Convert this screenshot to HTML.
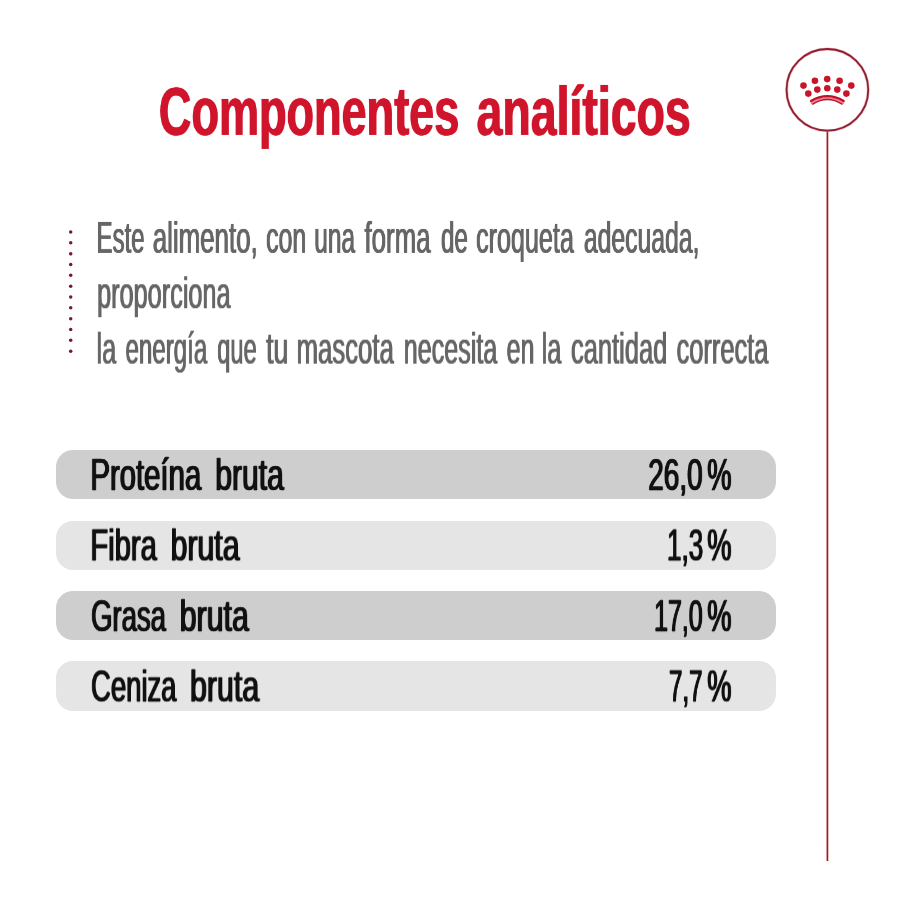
<!DOCTYPE html>
<html lang="es">
<head>
<meta charset="utf-8">
<title>Componentes analíticos</title>
<style>
html,body{margin:0;padding:0;}
body{width:900px;height:900px;background:#fff;position:relative;overflow:hidden;font-family:"Liberation Sans",sans-serif;}
.t{will-change:transform;position:absolute;left:0;top:0;white-space:nowrap;transform-origin:0 0;line-height:1;display:inline-block;}
.title{font-size:69px;font-weight:bold;color:#cf142b;text-shadow:0.85px 0 0 #cf142b,-0.85px 0 0 #cf142b;}
.p{font-size:44.5px;color:#666;text-shadow:0.75px 0 0 #666,-0.75px 0 0 #666;}
.row{position:absolute;left:56.2px;width:720px;height:48.8px;border-radius:17px;}
.dark{background:#cecece;}
.light{background:#e5e5e5;}
.lab{font-size:44.5px;color:#111;text-shadow:1px 0 0 #111,-1px 0 0 #111;-webkit-text-stroke:0.5px #111;}
</style>
</head>
<body>
<svg width="900" height="900" viewBox="0 0 900 900" style="position:absolute;left:0;top:0">
  <g fill="#741836" id="dots">
    <circle cx="70.7" cy="232.05" r="1.75"/><circle cx="70.7" cy="242.85" r="1.75"/><circle cx="70.7" cy="253.75" r="1.75"/>
    <circle cx="70.7" cy="264.55" r="1.75"/><circle cx="70.7" cy="275.35" r="1.75"/><circle cx="70.7" cy="286.25" r="1.75"/>
    <circle cx="70.7" cy="297.05" r="1.75"/><circle cx="70.7" cy="307.85" r="1.75"/><circle cx="70.7" cy="318.65" r="1.75"/>
    <circle cx="70.7" cy="329.55" r="1.75"/><circle cx="70.7" cy="340.35" r="1.75"/><circle cx="70.7" cy="351.15" r="1.75"/>
  </g>
  <rect x="826" y="131" width="1" height="730" fill="#dc97a1"/>
  <rect x="827" y="131" width="1" height="730" fill="#7c2631"/>
  <rect x="828" y="131" width="1" height="730" fill="#e8c2bd"/>
  <circle cx="827.4" cy="89.85" r="40.85" fill="none" stroke="#e88c98" stroke-opacity="0.6" stroke-width="3"/>
  <circle cx="827.4" cy="89.85" r="40.85" fill="none" stroke="#8e1f30" stroke-width="1.8"/>
  <g fill="#c9152b">
    <circle cx="814.9" cy="80.7" r="3.3"/><circle cx="827.2" cy="79.1" r="3.3"/><circle cx="839.6" cy="80.7" r="3.3"/>
    <circle cx="803.5" cy="85.6" r="3.3"/><circle cx="851.3" cy="85.6" r="3.3"/>
    <circle cx="817.3" cy="89.6" r="3.3"/><circle cx="827.3" cy="88.3" r="3.3"/><circle cx="837.3" cy="89.6" r="3.3"/>
    <circle cx="808.3" cy="93.6" r="3.3"/><circle cx="846.4" cy="93.6" r="3.3"/>
  </g>
  <path d="M811.6 102.7 Q827.3 93.6 843.1 102.7" fill="none" stroke="#f0808f" stroke-width="2.4" stroke-linecap="round"/>
  <path d="M811 100.9 Q827.3 91.5 843.7 100.9" fill="none" stroke="#b8132a" stroke-width="2.3" stroke-linecap="round"/>
  <path d="M812.7 104.1 Q827.3 94.9 842 104.1" fill="none" stroke="#b8132a" stroke-width="1.45" stroke-linecap="round"/>
</svg>

<div class="row dark" style="top:450px;height:49px"></div>
<div class="row light" style="top:520.5px;height:49.4px"></div>
<div class="row dark" style="top:590.9px;height:49.4px"></div>
<div class="row light" style="top:661.2px;height:49.4px"></div>

<!--WORDS-->
<div class="t title" style="transform:translate(158.85px,76.89px) scaleX(0.6531)">Componentes</div>
<div class="t title" style="transform:translate(476.53px,76.89px) scaleX(0.6730)">analíticos</div>
<div class="t p" style="transform:translate(96.59px,215.93px) scaleX(0.5385)">Este</div>
<div class="t p" style="transform:translate(152.75px,215.93px) scaleX(0.5813)">alimento,</div>
<div class="t p" style="transform:translate(266.06px,215.93px) scaleX(0.5597)">con</div>
<div class="t p" style="transform:translate(314.21px,215.93px) scaleX(0.5500)">una</div>
<div class="t p" style="transform:translate(364.44px,215.93px) scaleX(0.5810)">forma</div>
<div class="t p" style="transform:translate(440.96px,215.93px) scaleX(0.5430)">de</div>
<div class="t p" style="transform:translate(476.06px,215.93px) scaleX(0.5646)">croqueta</div>
<div class="t p" style="transform:translate(583.86px,215.93px) scaleX(0.5561)">adecuada,</div>
<div class="t p" style="transform:translate(97.09px,271.23px) scaleX(0.5678)">proporciona</div>
<div class="t p" style="transform:translate(96.53px,326.63px) scaleX(0.5661)">la</div>
<div class="t p" style="transform:translate(125.46px,326.63px) scaleX(0.5419)">energía</div>
<div class="t p" style="transform:translate(217.17px,326.63px) scaleX(0.5329)">que</div>
<div class="t p" style="transform:translate(266.05px,326.63px) scaleX(0.6051)">tu</div>
<div class="t p" style="transform:translate(296.58px,326.63px) scaleX(0.5782)">mascota</div>
<div class="t p" style="transform:translate(403.69px,326.63px) scaleX(0.5644)">necesita</div>
<div class="t p" style="transform:translate(506.56px,326.63px) scaleX(0.5630)">en</div>
<div class="t p" style="transform:translate(541.63px,326.63px) scaleX(0.5661)">la</div>
<div class="t p" style="transform:translate(570.96px,326.63px) scaleX(0.5729)">cantidad</div>
<div class="t p" style="transform:translate(676.56px,326.63px) scaleX(0.5709)">correcta</div>
<div class="t lab" style="transform:translate(90.35px,453.03px) scaleX(0.6590)">Proteína</div>
<div class="t lab" style="transform:translate(215.19px,453.03px) scaleX(0.6772)">bruta</div>
<div class="t lab" style="transform:translate(90.35px,523.43px) scaleX(0.6555)">Fibra</div>
<div class="t lab" style="transform:translate(170.49px,523.43px) scaleX(0.6812)">bruta</div>
<div class="t lab" style="transform:translate(91.04px,594.13px) scaleX(0.6176)">Grasa</div>
<div class="t lab" style="transform:translate(179.69px,594.13px) scaleX(0.6821)">bruta</div>
<div class="t lab" style="transform:translate(91.04px,664.43px) scaleX(0.6161)">Ceniza</div>
<div class="t lab" style="transform:translate(189.99px,664.43px) scaleX(0.6821)">bruta</div>
<div class="t lab" style="transform:translate(648.13px,453.03px) scaleX(0.6299)">26,0</div>
<div class="t lab" style="transform:translate(707.15px,453.03px) scaleX(0.6177)">%</div>
<div class="t lab" style="transform:translate(666.97px,523.43px) scaleX(0.5871)">1,3</div>
<div class="t lab" style="transform:translate(707.15px,523.43px) scaleX(0.6177)">%</div>
<div class="t lab" style="transform:translate(654.02px,594.13px) scaleX(0.5623)">17,0</div>
<div class="t lab" style="transform:translate(707.15px,594.13px) scaleX(0.6177)">%</div>
<div class="t lab" style="transform:translate(668.99px,664.43px) scaleX(0.5428)">7,7</div>
<div class="t lab" style="transform:translate(707.15px,664.43px) scaleX(0.6177)">%</div>
<!--/WORDS-->
</body>
</html>
